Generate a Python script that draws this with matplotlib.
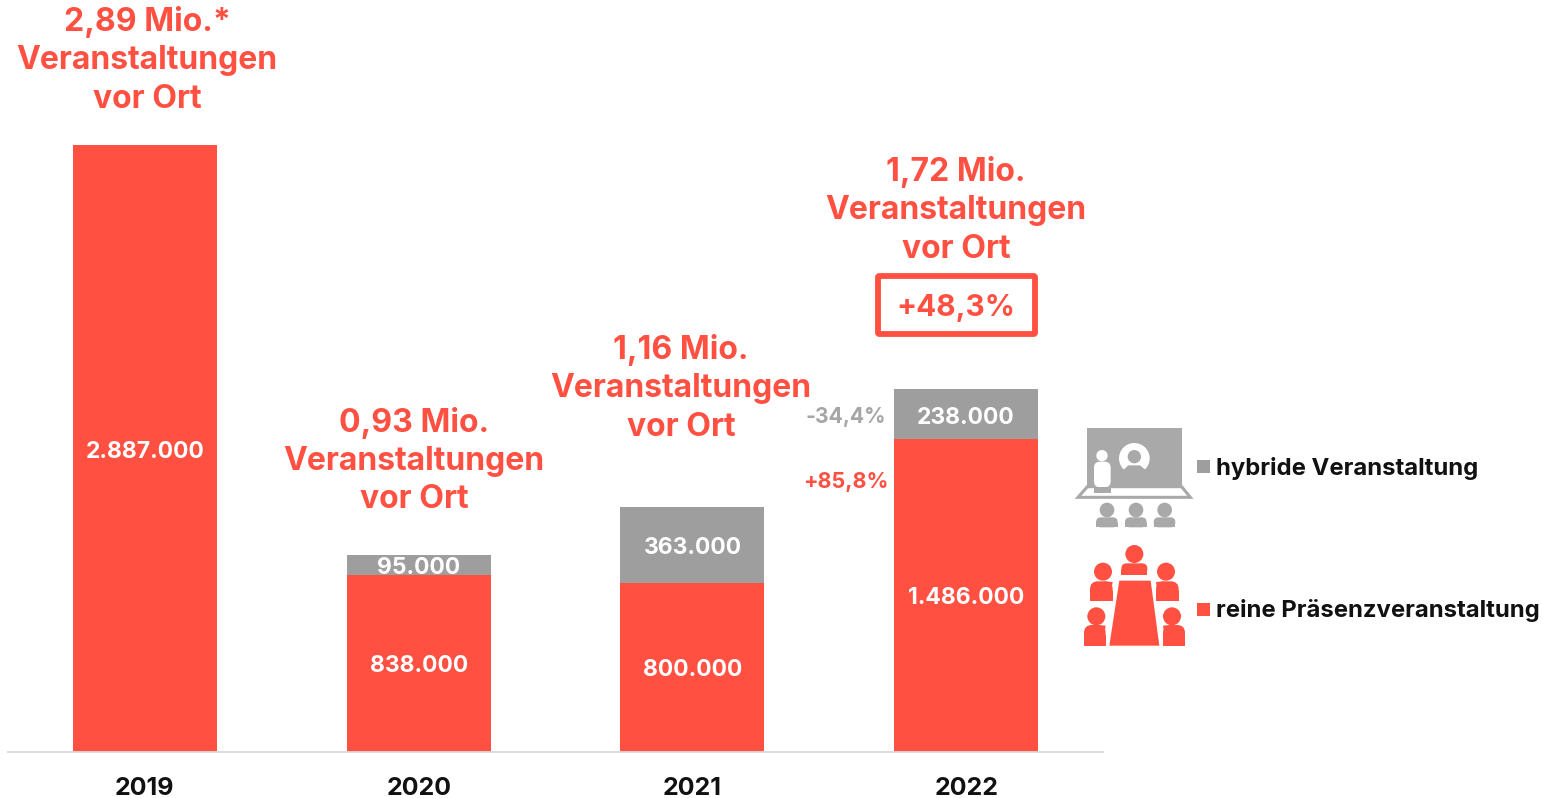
import matplotlib
matplotlib.use("Agg")
import matplotlib.pyplot as plt
from matplotlib.patches import Circle, Rectangle, Polygon, FancyBboxPatch

plt.rcParams['font.family'] = ['Inter', 'DejaVu Sans']

years = ['2019', '2020', '2021', '2022']
praesenz = [2887000, 838000, 800000, 1486000]
hybrid = [0, 95000, 363000, 238000]
praesenz_labels = ['2.887.000', '838.000', '800.000', '1.486.000']
hybrid_labels = ['', '95.000', '363.000', '238.000']
totals = ['2,89 Mio.*', '0,93 Mio.', '1,16 Mio.', '1,72 Mio.']
legend_labels = ['hybride Veranstaltung', 'reine Präsenzveranstaltung']

RED = '#FF5042'
GREY = '#9E9E9F'
ICON_GREY = '#A9A9A9'
W, H = 1543, 798
fig = plt.figure(figsize=(W/100, H/100), dpi=100)

ax = fig.add_axes([8/W, 1-751.5/H, 1095/W, 606.5/H])
xs = range(len(years))
ax.bar(xs, praesenz, width=0.526, color=RED)
ax.bar(xs, hybrid, width=0.526, bottom=praesenz, color=GREY)
ax.set_xlim(-0.5, 3.5)
ax.set_ylim(0, 2887000)
ax.set_yticks([])
ax.set_xticks(list(xs), years, fontsize=18, fontweight='bold', color='#111111')
ax.tick_params(axis='x', length=0, pad=18.5)
for s in ['top', 'left', 'right']:
    ax.spines[s].set_visible(False)
ax.spines['bottom'].set_color('#D9D9D9')
ax.spines['bottom'].set_linewidth(1.3)

# overlay in pixel coordinates
ov = fig.add_axes([0, 0, 1, 1], zorder=5)
ov.set_xlim(0, W); ov.set_ylim(H, 0); ov.axis('off'); ov.patch.set_alpha(0)

# segment labels
lab_y = [451.5, 666.5, 670.5, 598.5]
hyb_y = [None, 568.5, 548.5, 417.5]
lab_x = [145, 419, 692.5, 966]
for i in xs:
    ov.text(lab_x[i], lab_y[i], praesenz_labels[i], color='white', fontsize=16.5, fontweight='bold', ha='center', va='center')
    if hybrid_labels[i]:
        ov.text(lab_x[i], hyb_y[i], hybrid_labels[i], color='white', fontsize=16.5, fontweight='bold', ha='center', va='center')

# headline blocks
blk_x = [147, 414, 681, 956]
blk_y = [22, 423, 350, 172]
for i in xs:
    for j, t in enumerate([totals[i], 'Veranstaltungen', 'vor Ort']):
        ov.text(blk_x[i], blk_y[i] + j*38.5, t, color=RED, fontsize=23, fontweight='bold', ha='center', va='center')

# callouts
ov.add_patch(FancyBboxPatch((878, 276), 157, 58, boxstyle='round,pad=0,rounding_size=1.5', fc='white', ec=RED, lw=4.2))
ov.text(956, 307.5, '+48,3%', color=RED, fontsize=21.4, fontweight='bold', ha='center', va='center')
ov.text(845.5, 417, '-34,4%', color='#A6A6A6', fontsize=15.2, fontweight='bold', ha='center', va='center')
ov.text(846, 482, '+85,8%', color=RED, fontsize=15.5, fontweight='bold', ha='center', va='center')

# legend
ov.add_patch(Rectangle((1197, 460), 13, 13, fc=GREY, ec='none'))
ov.add_patch(Rectangle((1197, 603), 13, 13, fc=RED, ec='none'))
ov.text(1216, 468, legend_labels[0], color='#111111', fontsize=17.2, fontweight='bold', ha='left', va='center')
ov.text(1216, 611, legend_labels[1], color='#111111', fontsize=17.2, fontweight='bold', ha='left', va='center')

# icons (coordinates in crop units)
zx = lambda v: 1060 + v/3
zy = lambda v: 410 + v/3
def box(x0, y0, x1, y1, c, r=8, z=6):
    ov.add_patch(FancyBboxPatch((zx(x0)+r/3, zy(y0)+r/3), (x1-x0-2*r)/3, (y1-y0-2*r)/3,
                                boxstyle=f'round,pad={r/3},rounding_size={r/3}', fc=c, ec='none', zorder=z))
def rect(x0, y0, x1, y1, c, z=6):
    ov.add_patch(Rectangle((zx(x0), zy(y0)), (x1-x0)/3, (y1-y0)/3, fc=c, ec='none', zorder=z))
def circ(x, y, r, c, z=6):
    ov.add_patch(Circle((zx(x), zy(y)), r/3, fc=c, ec='none', zorder=z))
def poly(pts, c, z=6, **kw):
    ov.add_patch(Polygon([(zx(a), zy(b)) for a, b in pts], closed=True, fc=c, zorder=z, **kw))

# presenter icon
rect(80, 54, 367, 230, ICON_GREY)
ov.add_patch(Polygon([(zx(a), zy(b)) for a, b in [(54, 262), (82, 230), (365, 230), (391, 262)]],
                     closed=True, fc='white', ec=ICON_GREY, lw=2.2, zorder=6))
circ(126, 137, 17, 'white', 7)
box(102, 155, 152, 232, 'white', 18, 7)
rect(102, 230, 152, 248, ICON_GREY, 8)
circ(223, 145, 46, 'white', 7)
circ(223, 140, 20, ICON_GREY, 8)
poly([(190, 180), (205, 166), (240, 166), (257, 180), (245, 200), (200, 200)], ICON_GREY, 8, ec='none')
for cx in (141, 228, 314):
    circ(cx, 300, 22, ICON_GREY)
    box(cx-33, 322, cx+32, 352, ICON_GREY, 15)
    rect(cx-33, 338, cx+32, 352, ICON_GREY)

# meeting icon
poly([(178, 512), (272, 512), (298, 707), (148, 707)], RED, ec='none')
for cx, cy in [(223, 432), (129, 485), (318, 485), (109, 619), (336, 619)]:
    circ(cx, cy, 27, RED)
box(184, 460, 262, 494, RED, 16)
rect(184, 480, 262, 494, RED)
for x0, y0, x1, y1, sq in [(90, 514, 158, 573, 'r'), (288, 514, 356, 573, 'l'),
                           (72, 645, 137, 707, 'r'), (309, 645, 375, 707, 'l')]:
    box(x0, y0, x1, y1, RED, 24)
    rect(x0, y0+30, x1, y1, RED)
    if sq == 'r':
        poly([(x1-24, y0), (x1, y0+2), (x1-5, y0+32), (x1-24, y0+32)], RED)
    else:
        poly([(x0+24, y0), (x0, y0+2), (x0+5, y0+32), (x0+24, y0+32)], RED)

fig.savefig('out.png', dpi=100)
